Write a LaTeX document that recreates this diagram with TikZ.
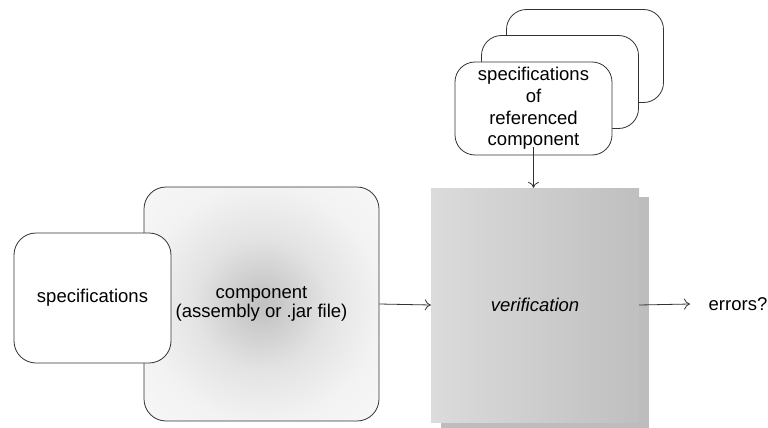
\documentclass[tikz,border=0pt]{standalone}
\usepackage{fontspec}
\setmainfont{Liberation Sans}
\usetikzlibrary{arrows.meta,calc}
\pgfdeclareradialshading{compshade}{\pgfpoint{0bp}{0bp}}{color(0bp)=(black!24); color(3bp)=(black!22); color(14bp)=(black!11); color(25bp)=(black!5); color(36bp)=(black!3); color(50bp)=(black!3)}
\tikzset{
  line/.style={draw=black!80, line width=0.8pt},
  rbox/.style={line, rounded corners=22pt, fill=white, inner sep=0pt, align=center},
  sbox/.style={rbox, rounded corners=20pt, minimum width=157pt, minimum height=93pt},
  conn/.style={line, -{To[length=6pt,width=11pt]}},
  txt/.style={font=\fontsize{18.5}{18.3}\selectfont},
}
\begin{document}
\begin{tikzpicture}[x=1pt,y=-1pt]
\useasboundingbox (0,0) rectangle (768,428);
% stacked referenced specifications
\node[sbox] (back) at (585,56) {};
\node[sbox] (middle) at (560,82) {};
\node[sbox, font=\fontsize{18.5}{21.7}\selectfont] (front) at (533.5,108.5) {specifications\\of\\referenced\\component};
% component
\node[rbox, minimum width=235pt, minimum height=234pt, shading=compshade, txt] (comp) at (261.5,304) {component\\(assembly or .jar file)};
% specifications
\node[rbox, minimum width=157pt, minimum height=130pt, txt] (spec) at (92.5,298) {specifications};
% verification with shadow
\node[fill=black!26, minimum width=208pt, minimum height=234pt, inner sep=0pt] (vshadow) at (545,314) {};
\node[minimum width=208pt, minimum height=234pt, inner sep=0pt, shading angle=60, left color=black!14, right color=black!25, txt, font=\fontsize{18.5}{18.3}\selectfont\itshape] (verif) at (535,305) {verification};
% errors
\coordinate (out) at (690,304);
\node[anchor=west, txt, inner sep=0pt] (err) at (708.5,304) {errors?};
% connectors
\draw[conn] (comp.east) -- (verif.west);
\draw[conn] (verif.east) -- (out);
\draw[conn] ([yshift=8pt]front.south) -- (front.south |- verif.north);
\end{tikzpicture}
\end{document}
